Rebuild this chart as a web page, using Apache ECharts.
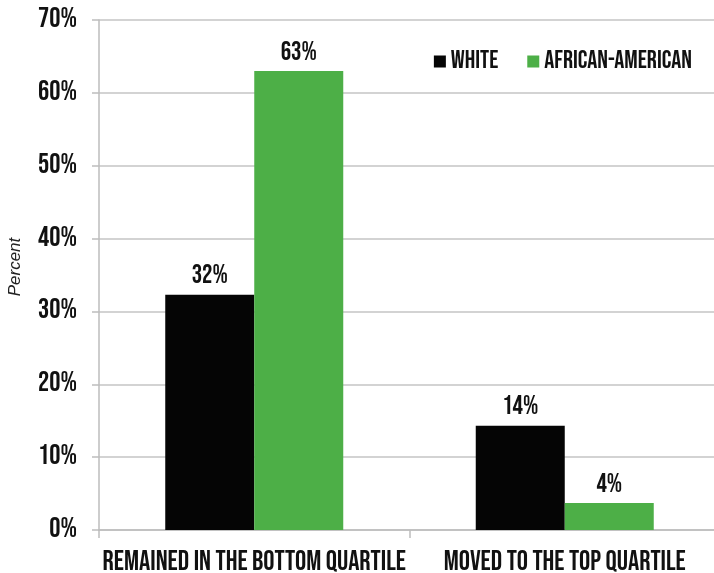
<!DOCTYPE html>
<html>
<head>
<meta charset="utf-8">
<script src="https://cdn.jsdelivr.net/npm/echarts@6/dist/echarts.min.js"></script>
<style>
html,body{margin:0;padding:0;background:#fff;}
#c{width:714px;height:573px;}
</style>
</head>
<body>
<div id="c"></div>
<script>
var categories = ['REMAINED IN THE BOTTOM QUARTILE', 'MOVED TO THE TOP QUARTILE'];
var seriesNames = ['WHITE', 'AFRICAN-AMERICAN'];
var whiteValues = [32.3, 14.3];
var africanAmericanValues = [63.0, 3.7];
var yTicks = [0, 10, 20, 30, 40, 50, 60, 70];

var FONT = '"Bebas Neue", "Oswald", "Roboto Condensed", sans-serif';
var chart = echarts.init(document.getElementById('c'), null, {renderer: 'canvas'});
var labelOpt = {
  show: true, position: 'top', distance: 5,
  fontFamily: FONT, fontWeight: 'normal', fontSize: 26, color: '#111',
  formatter: function (p) { return Math.round(p.value) + '%'; }
};
chart.setOption({
  animation: false,
  textStyle: {fontFamily: FONT},
  legend: {
    data: seriesNames, right: 17, top: 44, itemWidth: 12, itemHeight: 12, itemGap: 29,
    icon: 'rect',
    textStyle: {fontFamily: FONT, fontSize: 25, color: '#111'}
  },
  grid: {left: 99, right: -6, top: 20, bottom: 43, containLabel: false, outerBoundsMode: 'none'},
  xAxis: {
    type: 'category', data: categories,
    axisLine: {show: true, lineStyle: {color: '#bdbdbd', width: 1.5}},
    axisTick: {show: true, length: 8, lineStyle: {color: '#bdbdbd', width: 1.5}},
    axisLabel: {interval: 0, hideOverlap: false, margin: 19, fontFamily: FONT, fontSize: 28, color: '#111'}
  },
  yAxis: {
    type: 'value', min: yTicks[0], max: yTicks[yTicks.length - 1], interval: 10,
    name: 'Percent', nameLocation: 'middle', nameGap: 75,
    nameTextStyle: {fontFamily: '"Liberation Sans", Arial, sans-serif', fontStyle: 'italic', fontSize: 17, color: '#222', padding: [0, 0, 0, 16]},
    axisLine: {show: true, lineStyle: {color: '#bdbdbd', width: 1.5}},
    axisTick: {show: true, length: 7, lineStyle: {color: '#bdbdbd', width: 1.5}},
    splitLine: {show: true, lineStyle: {color: '#c4c4c4', width: 1.5}},
    axisLabel: {margin: 22, fontFamily: FONT, fontSize: 28, color: '#111',
      formatter: function (v) { return v + '%'; }}
  },
  series: [
    {name: seriesNames[0], type: 'bar', data: whiteValues, barWidth: 89, barGap: '0%',
      itemStyle: {color: '#050505'}, label: labelOpt},
    {name: seriesNames[1], type: 'bar', data: africanAmericanValues, barWidth: 89, barGap: '0%',
      itemStyle: {color: '#4daf47'}, label: labelOpt}
  ]
});
</script>
</body>
</html>
